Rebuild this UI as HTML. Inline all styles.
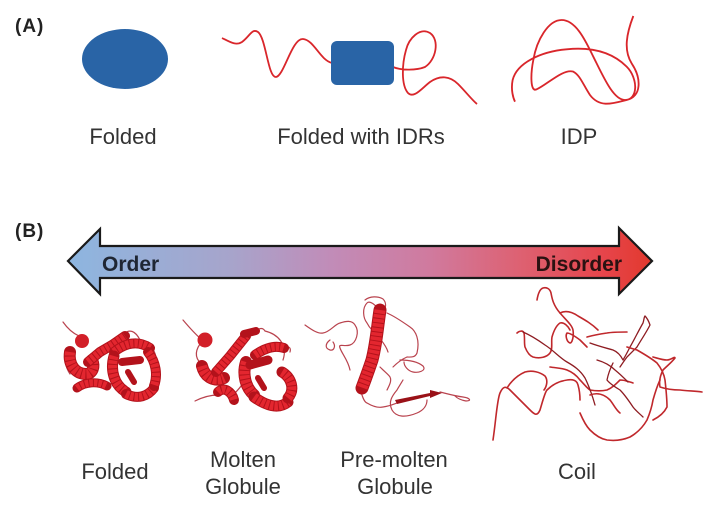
<!DOCTYPE html>
<html>
<head>
<meta charset="utf-8">
<style>
  html,body{margin:0;padding:0;background:#fff;}
  svg{display:block;}
  text{font-family:"Liberation Sans",Arial,sans-serif;}
  .lbl{font-size:22px;fill:#333;text-anchor:middle;}
  .tag{font-size:19px;font-weight:bold;fill:#222;letter-spacing:1px;}
  .hx{fill:none;stroke:#b3121b;stroke-linecap:round;stroke-linejoin:round;}
  .hx2{fill:none;stroke:#e3262f;stroke-dasharray:3.5 1;stroke-linecap:butt;}
  .th{fill:none;stroke:#b9434e;stroke-width:1.2;stroke-linecap:round;}
  .cl{fill:none;stroke:#c0282c;stroke-width:1.6;stroke-linecap:round;stroke-linejoin:round;}
  .cd{fill:none;stroke:#8e1c22;stroke-width:1.3;stroke-linecap:round;stroke-linejoin:round;}
</style>
</head>
<body>
<svg width="719" height="512" viewBox="0 0 719 512" xmlns="http://www.w3.org/2000/svg">
  <defs>
    <linearGradient id="g" x1="68" y1="0" x2="652" y2="0" gradientUnits="userSpaceOnUse">
      <stop offset="0" stop-color="#8db6e0"/>
      <stop offset="0.28" stop-color="#a7a4cb"/>
      <stop offset="0.45" stop-color="#c18cb8"/>
      <stop offset="0.62" stop-color="#d07a9e"/>
      <stop offset="0.78" stop-color="#de6070"/>
      <stop offset="0.92" stop-color="#e6444a"/>
      <stop offset="1" stop-color="#e2392d"/>
    </linearGradient>
  </defs>

  <text class="tag" x="15" y="32">(A)</text>

  <ellipse cx="125" cy="59" rx="43" ry="30" fill="#2964a6"/>

  <path d="M222,38 C230,42 236,46 242,42 C250,36 252,28 258,32 C266,38 268,78 276,77 C284,76 292,38 303,39 C314,40 320,60 332,63" fill="none" stroke="#d9262b" stroke-width="1.8"/>
  <path d="M393,67 C400,70 415,71 425,67 C436,60 440,40 430,33 C420,27 409,38 406,50 C402,64 401,85 408,93 C414,99 422,88 430,82 C440,75 450,76 458,84 C466,92 472,100 477,104" fill="none" stroke="#d9262b" stroke-width="1.8"/>
  <rect x="331" y="41" width="63" height="44" rx="6" ry="6" fill="#2964a6"/>

  <g transform="translate(360,0) scale(0.3333)">
    <path d="M820,48 C800,100 790,150 815,190 C845,235 845,290 800,300 C760,310 720,325 690,285 C670,255 660,225 640,215 C610,205 560,255 530,268 C510,278 512,220 520,180 C530,120 565,60 605,60 C650,60 680,130 700,170 C730,230 760,300 795,300 C835,300 835,235 800,200 C760,160 700,140 620,148 C540,155 470,190 458,240 C452,270 460,295 465,305" fill="none" stroke="#d9262b" stroke-width="5.5"/>
  </g>

  <text class="lbl" x="123" y="144">Folded</text>
  <text class="lbl" x="361" y="144">Folded with IDRs</text>
  <text class="lbl" x="579" y="144">IDP</text>

  <text class="tag" x="15" y="237">(B)</text>

  <polygon points="68,261 100,229 100,246 619,246 619,228 652,261 619,294 619,278 100,278 100,294" fill="url(#g)" stroke="#1a1a1a" stroke-width="2.2" stroke-linejoin="miter"/>
  <text x="102" y="271" style="font-size:21px;font-weight:bold;fill:#1f2633;">Order</text>
  <text x="622" y="271" text-anchor="end" style="font-size:21px;font-weight:bold;fill:#2b1212;">Disorder</text>

  <!-- Folded structure -->
  <g>
    <path class="th" d="M63,322 Q70,332 79,336"/>
    <path class="th" d="M107,386 Q113,384 114,378"/>
    <path class="th" d="M123,334 Q133,326 140,340"/>
    <path class="th" d="M140,342 C156,343 160,362 153,374"/>
    <path class="th" d="M69,353 Q62,362 70,374"/>
    <path class="th" d="M86,372 Q88,380 80,386"/>
    <circle cx="82" cy="341" r="7" fill="#d21f28"/>
    <path class="hx" stroke-width="12" d="M70,352 C68,365 76,374 86,374 C93,374 95,366 92,360"/>
    <path class="hx2" stroke-width="10" d="M70,352 C68,365 76,374 86,374 C93,374 95,366 92,360"/>
    <path class="hx" stroke-width="10" d="M88,362 L100,352 L112,345 L125,336"/>
    <path class="hx2" stroke-width="8" d="M88,362 L100,352 L112,345 L125,336"/>
    <path class="hx" stroke-width="10" d="M114,352 C125,343 138,340 150,348"/>
    <path class="hx2" stroke-width="8" d="M114,352 C125,343 138,340 150,348"/>
    <path class="hx" stroke-width="11" d="M114,356 C110,370 114,385 126,392"/>
    <path class="hx2" stroke-width="9" d="M114,356 C110,370 114,385 126,392"/>
    <path class="hx" stroke-width="10" d="M126,394 C138,400 148,396 154,388"/>
    <path class="hx2" stroke-width="8" d="M126,394 C138,400 148,396 154,388"/>
    <path class="hx" stroke-width="10" d="M148,352 C156,362 158,375 154,386"/>
    <path class="hx2" stroke-width="8" d="M148,352 C156,362 158,375 154,386"/>
    <path class="hx" stroke-width="8" d="M122,362 L140,360"/>
    <path class="hx" stroke-width="6" d="M128,372 L134,382"/>
    <path class="hx" stroke-width="9" d="M77,388 C85,382 97,381 107,386"/>
    <path class="hx2" stroke-width="7" d="M77,388 C85,382 97,381 107,386"/>
  </g>

  <!-- Molten globule -->
  <g>
    <path class="th" d="M183,320 Q194,333 201,339"/>
    <path class="th" d="M200,344 Q191,357 204,366"/>
    <path class="th" d="M256,331 Q262,326 265,331"/>
    <path class="th" d="M265,331 C278,334 288,345 283,360"/>
    <path class="th" d="M195,401 Q207,395 218,395"/>
    <path class="th" d="M234,394 Q240,388 244,382"/>
    <path class="th" d="M282,347 Q292,345 290,352"/>
    <circle cx="205" cy="340" r="7.5" fill="#d21f28"/>
    <path class="hx" stroke-width="12" d="M202,366 C205,378 215,382 224,378"/>
    <path class="hx2" stroke-width="10" d="M202,366 C205,378 215,382 224,378"/>
    <path class="hx" stroke-width="10" d="M216,372 L230,356 L246,336"/>
    <path class="hx2" stroke-width="8" d="M216,372 L230,356 L246,336"/>
    <path class="hx" stroke-width="8" d="M244,334 L256,331"/>
    <path class="hx" stroke-width="10" d="M255,355 C265,348 275,345 284,348"/>
    <path class="hx2" stroke-width="8" d="M255,355 C265,348 275,345 284,348"/>
    <path class="hx" stroke-width="12" d="M246,362 C242,375 246,388 254,395"/>
    <path class="hx2" stroke-width="10" d="M246,362 C242,375 246,388 254,395"/>
    <path class="hx" stroke-width="11" d="M254,397 C265,405 278,410 288,402"/>
    <path class="hx2" stroke-width="9" d="M254,397 C265,405 278,410 288,402"/>
    <path class="hx" stroke-width="11" d="M282,372 C292,378 295,390 288,398"/>
    <path class="hx2" stroke-width="9" d="M282,372 C292,378 295,390 288,398"/>
    <path class="hx" stroke-width="9" d="M250,365 L268,360"/>
    <path class="hx" stroke-width="6" d="M258,378 L264,388"/>
    <path class="hx" stroke-width="10" d="M218,392 C224,386 232,392 234,400"/>
    <path class="hx2" stroke-width="8" d="M218,392 C224,386 232,392 234,400"/>
  </g>

  <!-- Pre-molten globule -->
  <g>
    <path class="th" d="M305,325 C312,330 318,334 323,333 C330,332 335,324 340,323 C346,321 352,320 355,325 C360,332 356,343 350,345 C344,347 338,343 340,348 C342,354 348,360 350,370"/>
    <path class="th" d="M380,310 C375,305 370,300 367,303 C362,308 363,318 367,323 C369,327 371,329 372,330"/>
    <path class="th" d="M365,300 C370,296 378,296 383,299 C387,303 386,309 382,312"/>
    <path class="th" d="M387,313 C394,316 400,320 410,327 C416,331 420,340 417,353 C415,358 410,357 407,357 C400,360 396,364 393,367"/>
    <path class="th" d="M400,360 C410,360 418,362 423,366 C427,371 418,373 413,372 C408,371 404,366 404,362"/>
    <path class="th" d="M403,380 C400,385 398,388 397,390 C392,396 388,402 392,410 C396,417 405,418 417,413 C424,410 427,405 427,400"/>
    <path class="th" d="M440,392 C448,394 455,396 463,397 C470,398 472,401 466,401 C460,400 457,398 455,396"/>
    <path class="th" d="M360,388 C362,396 364,402 367,403 C372,406 378,408 383,407 C390,406 394,404 397,403"/>
    <path class="th" d="M380,367 C385,372 389,375 390,377 C392,381 389,386 387,390"/>
    <path class="th" d="M330,340 C326,343 324,348 330,350 C334,351 336,346 333,342"/>
    <path class="th" d="M372,330 C378,336 386,345 388,352"/>
    <path class="hx" stroke-width="13" d="M380,310 C377,330 376,345 372,360 C368,372 365,380 362,388"/>
    <path class="hx2" stroke-width="11" d="M380,310 C377,330 376,345 372,360 C368,372 365,380 362,388"/>
    <polygon points="395,400 430,393 430,390 442,393 430,398 430,396 397,404" fill="#9a1118"/>
  </g>

  <!-- Coil -->
  <g>
    <path class="cl" d="M493,440 C496,420 497,400 500,393 C503,386 506,386 510,390 C518,398 526,406 530,410 C534,414 537,417 540,410 C543,400 545,392 547,390 C553,384 560,381 567,380 C572,379 577,380 578,385 C580,392 580,398 580,400"/>
    <path class="cl" d="M537,300 C538,294 540,289 543,288 C547,287 550,289 551,293 C552,298 553,305 560,313 C566,320 572,325 573,330 C574,337 572,343 570,343 C567,342 565,336 567,333 C570,333 576,337 580,340 C583,343 585,345 587,347"/>
    <path class="cl" d="M517,333 C519,331 523,330 524,333 C525,338 524,343 525,347 C527,352 530,356 533,357 C540,359 547,357 550,353 C553,349 551,342 552,337 C554,330 557,325 560,323 C564,322 568,326 570,330"/>
    <path class="cl" d="M587,337 C594,335 600,334 607,333 C613,332 620,332 627,332"/>
    <path class="cd" d="M590,343 C598,346 606,348 613,350 C618,352 621,356 623,360 C626,355 628,351 630,347 C634,340 639,330 643,323 C644,320 644,317 645,316 C647,318 649,322 650,325 C646,333 641,340 637,347 C633,351 630,354 627,357 C624,361 622,364 620,367"/>
    <path class="cl" d="M550,367 C556,368 562,368 567,370 C572,372 577,376 580,380 C584,384 587,388 590,390 C596,391 602,391 607,390 C612,388 616,384 620,380 C625,380 630,382 633,383"/>
    <path class="cl" d="M653,357 C657,358 662,360 667,360 C671,360 675,356 675,358 C672,362 667,366 663,370 C660,376 659,382 660,387 C666,389 673,390 680,390 C688,391 695,391 702,392"/>
    <path class="cl" d="M580,413 C583,420 586,426 590,430 C595,435 601,439 607,440 C615,441 623,440 630,437 C637,433 643,427 647,420 C650,413 652,406 653,400 C655,393 657,386 660,380"/>
    <path class="cd" d="M613,363 C610,369 608,375 607,380 C610,384 615,387 620,390 C625,395 629,401 633,407 C636,411 640,414 643,417"/>
    <path class="cl" d="M627,347 C630,348 634,349 637,350 C644,354 651,358 657,363 C661,368 664,374 665,380 C666,389 667,398 667,407 C664,413 659,417 653,420"/>
    <path class="cd" d="M523,332 C530,335 538,340 545,345 C553,350 560,358 567,362 C574,366 580,370 585,378 C590,388 593,398 595,405"/>
    <path class="cl" d="M507,388 C512,380 518,375 525,372 C532,370 540,372 545,376 C548,380 547,386 544,390"/>
    <path class="cl" d="M560,313 C566,310 572,312 578,316 C585,320 592,324 598,330"/>
    <path class="cd" d="M597,360 C604,362 610,365 615,370 C620,374 624,378 628,382"/>
    <path class="cl" d="M590,395 C598,392 605,395 610,400 C614,405 616,410 620,413"/>
  </g>

  <text class="lbl" x="115" y="479">Folded</text>
  <text class="lbl" x="243" y="467">Molten</text>
  <text class="lbl" x="243" y="494">Globule</text>
  <text class="lbl" x="394" y="467">Pre-molten</text>
  <text class="lbl" x="395" y="494">Globule</text>
  <text class="lbl" x="577" y="479">Coil</text>
</svg>
</body>
</html>
